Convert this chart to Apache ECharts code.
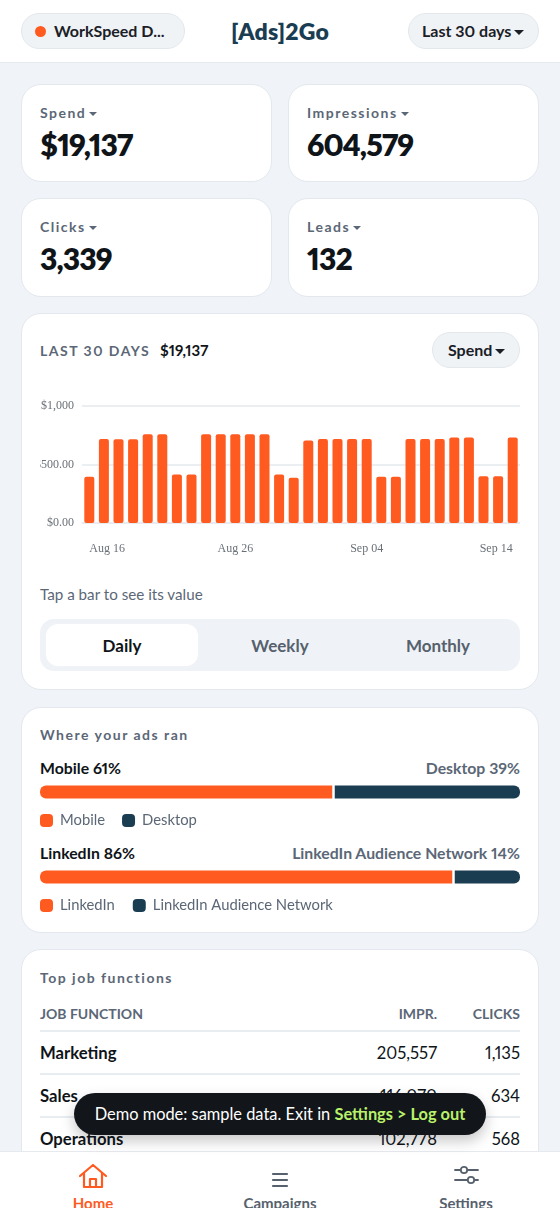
<!DOCTYPE html>
<html lang="en">
<head>
<meta charset="utf-8">
<title>[Ads]2Go</title>
<script src="https://cdn.jsdelivr.net/npm/echarts@6/dist/echarts.min.js"></script>
<style>
* { box-sizing: border-box; margin: 0; padding: 0; }
html, body { width: 560px; height: 1214px; overflow: hidden; background: #f0f4f8; font-family: Lato, "Open Sans", sans-serif; color: #0f1419; font-feature-settings: "pnum" 1; font-variant-numeric: proportional-nums; }
.abs { position: absolute; white-space: nowrap; }
.header { position: absolute; left: 0; top: 0; width: 560px; height: 63px; background: #fff; border-bottom: 1.5px solid #e6eaee; }
.pill { position: absolute; background: #f0f3f6; border: 1.5px solid #e3e8ec; border-radius: 18px; height: 36px; font-size: 16px; font-weight: 700; line-height: 33px; white-space: nowrap; color: #1a2026; }
.caret { display: inline-block; width: 0; height: 0; border-left: 5px solid transparent; border-right: 5px solid transparent; border-top: 5px solid currentColor; vertical-align: 2px; margin-left: 3px; }
.caret.small { border-left-width: 4px; border-right-width: 4px; border-top-width: 4px; vertical-align: 2px; }
.card { position: absolute; background: #fff; border: 1.5px solid #e3e8ee; border-radius: 20px; }
.label { color: #5b6776; font-size: 14px; font-weight: 700; letter-spacing: 1.5px; }
.stat-value { font-size: 30px; font-weight: 800; letter-spacing: -.9px; color: #0f1419; }
.seg { position: absolute; left: 40px; top: 619px; width: 480px; height: 52px; background: #eff3f7; border-radius: 14px; }
.seg-on { position: absolute; left: 46px; top: 624px; width: 152px; height: 42px; background: #fff; border-radius: 12px; }
.seg-text { position: absolute; top: 635px; width: 150px; text-align: center; font-size: 17px; font-weight: 700; line-height: 21px; color: #56616d; }
.split-head { font-size: 15.8px; font-weight: 700; line-height: 20px; }
.muted { color: #5b6776; }
.rule { position: absolute; left: 40px; width: 480px; height: 1.5px; background: #e8edf1; }
.toast { position: absolute; left: 74px; top: 1093px; width: 412px; height: 42px; background: #12161a; border-radius: 21px; color: #fff; font-size: 16.4px; line-height: 41px; text-align: center; white-space: nowrap; box-shadow: 0 6px 14px rgba(0,0,0,.22); }
.toast b { color: #b9f16a; font-weight: 700; }
.nav { position: absolute; left: 0; top: 1151px; width: 560px; height: 63px; background: #fff; border-top: 1.5px solid #e6eaee; }
.nav-text { position: absolute; top: 1193px; width: 120px; height: 15px; overflow: hidden; text-align: center; font-size: 15px; font-weight: 700; line-height: 20px; color: #56616d; }
svg { position: absolute; fill: none; stroke-linecap: round; stroke-linejoin: round; }
</style>
</head>
<body>
<div class="card" style="left:21px;top:84px;width:251px;height:98px"></div>
<div class="card" style="left:288px;top:84px;width:251px;height:98px"></div>
<div class="card" style="left:21px;top:198px;width:251px;height:99px"></div>
<div class="card" style="left:288px;top:198px;width:251px;height:99px"></div>
<div class="card" style="left:21px;top:313px;width:518px;height:377px"></div>
<div class="card" style="left:21px;top:707px;width:518px;height:226px"></div>
<div class="card" style="left:21px;top:949px;width:518px;height:300px"></div>
<div id="stats"></div>

<div class="abs label" style="left:40px;top:342px;">LAST 30 DAYS</div>
<div class="abs" style="left:160px;top:341px;font-size:15px;font-weight:700">$19,137</div>
<div class="pill" style="left:432px;top:332px;width:88px;padding-left:15px">Spend<span class="caret"></span></div>
<div id="spend-chart" style="position:absolute;left:40px;top:390px;width:480px;height:175px"></div>
<div class="abs muted" style="left:40px;top:585px;font-size:15.2px">Tap a bar to see its value</div>
<div class="seg"></div><div class="seg-on"></div>
<div class="seg-text" style="left:47px;color:#0f1419">Daily</div>
<div class="seg-text" style="left:205px">Weekly</div>
<div class="seg-text" style="left:363px">Monthly</div>

<div class="abs label" style="left:40px;top:726px">Where your ads ran</div>
<div id="split-heads"></div>
<div id="device-chart" style="position:absolute;left:40px;top:780px;width:480px;height:50px"></div>
<div id="network-chart" style="position:absolute;left:40px;top:865px;width:480px;height:50px"></div>

<div class="abs label" style="left:40px;top:969px">Top job functions</div>
<div id="table"></div>

<div class="nav"></div>
<svg style="left:78px;top:1163px" width="30" height="26" viewBox="0 0 30 26" stroke="#ff5a1f" stroke-width="2.2">
  <path d="M2 13 15 2l13 11M6 10v14h18V10M12 24v-8h6v8"/>
</svg>
<svg style="left:270px;top:1171px" width="20" height="18" viewBox="0 0 20 18" stroke="#56616d" stroke-width="2.2">
  <path d="M3 3h14M3 9h14M3 15h14"/>
</svg>
<svg style="left:452px;top:1164px" width="28" height="22" viewBox="0 0 28 22" stroke="#56616d" stroke-width="1.8">
  <path d="M3 6h5M16 6h10M3 16h12M23 16h3"/><circle cx="12" cy="6" r="3.2"/><circle cx="19" cy="16" r="3.2"/>
</svg>
<div class="nav-text" style="left:33px;color:#ff5a1f">Home</div>
<div class="nav-text" style="left:220px">Campaigns</div>
<div class="nav-text" style="left:406px">Settings</div>

<div class="toast">Demo mode: sample data. Exit in <b>Settings &gt; Log out</b></div>

<div class="header"></div>
<div class="pill" style="left:21px;top:13px;width:164px;padding-left:32px">WorkSpeed D...</div>
<div style="position:absolute;left:35px;top:26px;width:11px;height:11px;border-radius:50%;background:#ff5a1f"></div>
<div class="abs" style="left:231px;top:17px;font-size:23px;font-weight:800;color:#1a3d52;line-height:29px;letter-spacing:.2px">[Ads]2Go</div>
<div class="pill" style="left:408px;top:13px;width:131px;padding-left:13px">Last 30 days<span class="caret"></span></div>

<script>
// values
const statNames = ['Spend', 'Impressions', 'Clicks', 'Leads'];
const statValues = ['$19,137', '604,579', '3,339', '132'];

const spendDates = [
    'Aug 16', 'Aug 17', 'Aug 18', 'Aug 19', 'Aug 20', 'Aug 21', 'Aug 22', 'Aug 23', 'Aug 24', 'Aug 25',
    'Aug 26', 'Aug 27', 'Aug 28', 'Aug 29', 'Aug 30', 'Aug 31', 'Sep 01', 'Sep 02', 'Sep 03', 'Sep 04',
    'Sep 05', 'Sep 06', 'Sep 07', 'Sep 08', 'Sep 09', 'Sep 10', 'Sep 11', 'Sep 12', 'Sep 13', 'Sep 14'
];
const spendValues = [
    395, 719, 716, 716, 758, 758, 415, 415, 758, 758,
    758, 758, 758, 415, 386, 705, 719, 719, 719, 719,
    395, 395, 719, 719, 719, 730, 730, 400, 400, 730
];
const spendDateTicks = ['Aug 16', 'Aug 26', 'Sep 04', 'Sep 14'];
const spendValueTicks = ['$0.00', '$500.00', '$1,000'];

const deviceNames = ['Mobile', 'Desktop'];
const deviceShares = [61, 39];
const networkNames = ['LinkedIn', 'LinkedIn Audience Network'];
const networkShares = [86, 14];

const jobFunctions = ['Marketing', 'Sales', 'Operations'];
const jobImpressions = ['205,557', '116,070', '102,778'];
const jobClicks = ['1,135', '634', '568'];

const ORANGE = '#ff5a1f';
const NAVY = '#1a3d52';
const LEGEND_ICON = 'path://M4 0H9A4 4 0 0 1 13 4V9A4 4 0 0 1 9 13H4A4 4 0 0 1 0 9V4A4 4 0 0 1 4 0Z';

// stat cards
document.getElementById('stats').innerHTML = statNames.map((name, i) => {
    const x = i % 2 ? 307 : 40;
    const y = i < 2 ? 0 : 114;
    return `<div class="abs label" style="left:${x}px;top:${104 + y}px">${name}<span class="caret small"></span></div>
        <div class="abs stat-value" style="left:${x}px;top:${126 + y}px">${statValues[i]}</div>`;
}).join('');

// split bar headings
function splitHead(names, shares, top) {
    return `<div class="abs split-head" style="left:40px;top:${top}px">${names[0]} ${shares[0]}%</div>
        <div class="abs split-head muted" style="right:40px;top:${top}px">${names[1]} ${shares[1]}%</div>`;
}
document.getElementById('split-heads').innerHTML =
    splitHead(deviceNames, deviceShares, 758) + splitHead(networkNames, networkShares, 843);

// table
let tableHtml = `<div class="abs muted" style="left:40px;top:1005px;font-size:14px;font-weight:700">JOB FUNCTION</div>
    <div class="abs muted" style="right:123px;top:1005px;font-size:14px;font-weight:700">IMPR.</div>
    <div class="abs muted" style="right:40px;top:1005px;font-size:14px;font-weight:700">CLICKS</div>
    <div class="rule" style="top:1030px"></div>`;
jobFunctions.forEach((name, i) => {
    const y = 1043 + i * 43;
    tableHtml += `<div class="abs" style="left:40px;top:${y}px;font-size:16.7px;font-weight:700">${name}</div>
        <div class="abs" style="right:123px;top:${y}px;font-size:16.7px">${jobImpressions[i]}</div>
        <div class="abs" style="right:40px;top:${y}px;font-size:16.7px">${jobClicks[i]}</div>`;
    if (i < 2) tableHtml += `<div class="rule" style="top:${1073 + i * 43}px"></div>`;
});
document.getElementById('table').innerHTML = tableHtml;

// daily spend bars
const spendChart = echarts.init(document.getElementById('spend-chart'));
spendChart.setOption({
    animation: false,
    grid: { left: 42, right: 0, top: 16, height: 117, outerBoundsMode: 'none' },
    xAxis: {
        type: 'category',
        data: spendDates,
        axisTick: { show: false },
        axisLine: { lineStyle: { color: '#e6eaee', width: 1.5 } },
        axisLabel: {
            interval: (idx, name) => spendDateTicks.includes(name),
            alignMinLabel: 'left',
            alignMaxLabel: 'right',
            margin: 20,
            fontFamily: 'Liberation Serif',
            fontSize: 12,
            color: '#6a7078'
        }
    },
    yAxis: {
        type: 'value',
        min: 0,
        max: 1000,
        interval: 500,
        axisLine: { show: false },
        axisTick: { show: false },
        splitLine: { lineStyle: { color: '#e6eaee', width: 1.5 } },
        axisLabel: {
            margin: 8,
            padding: [2, 0, 0, 0],
            fontFamily: 'Liberation Serif',
            fontSize: 12,
            color: '#6a7078',
            formatter: (value, idx) => spendValueTicks[idx]
        }
    },
    series: [{
        type: 'bar',
        data: spendValues,
        barWidth: 10,
        itemStyle: { color: ORANGE, borderRadius: 2 }
    }]
});

// share bars, one stacked bar plus its legend
function renderSplit(id, names, shares, legendGap) {
    const chart = echarts.init(document.getElementById(id));
    chart.setOption({
        animation: false,
        color: [ORANGE, NAVY],
        legend: {
            data: names,
            left: 0,
            top: 33,
            padding: 0,
            icon: LEGEND_ICON,
            itemWidth: 13,
            itemHeight: 13,
            itemGap: legendGap,
            selectedMode: false,
            textStyle: { fontFamily: 'Lato', fontSize: 14.8, color: '#5b6776', padding: [0, 0, 0, 2] }
        },
        grid: { left: 0, right: 0, top: 5, height: 14, outerBoundsMode: 'none' },
        xAxis: { type: 'value', min: 0, max: 100, show: false },
        yAxis: { type: 'category', data: ['share'], show: false },
        series: [
            {
                name: names[0],
                type: 'bar',
                stack: 'share',
                data: [shares[0]],
                barWidth: 13,
                itemStyle: { borderRadius: [6, 0, 0, 6] },
                // white gap between the two parts
                markLine: {
                    silent: true,
                    symbol: 'none',
                    label: { show: false },
                    lineStyle: { color: '#fff', width: 2.5, type: 'solid' },
                    data: [{ xAxis: shares[0] }]
                },
                z: 2
            },
            {
                name: names[1],
                type: 'bar',
                stack: 'share',
                data: [shares[1]],
                barWidth: 13,
                itemStyle: { borderRadius: [0, 6, 6, 0] }
            }
        ]
    });
}
renderSplit('device-chart', deviceNames, deviceShares, 17);
renderSplit('network-chart', networkNames, networkShares, 18);
</script>
</body>
</html>
